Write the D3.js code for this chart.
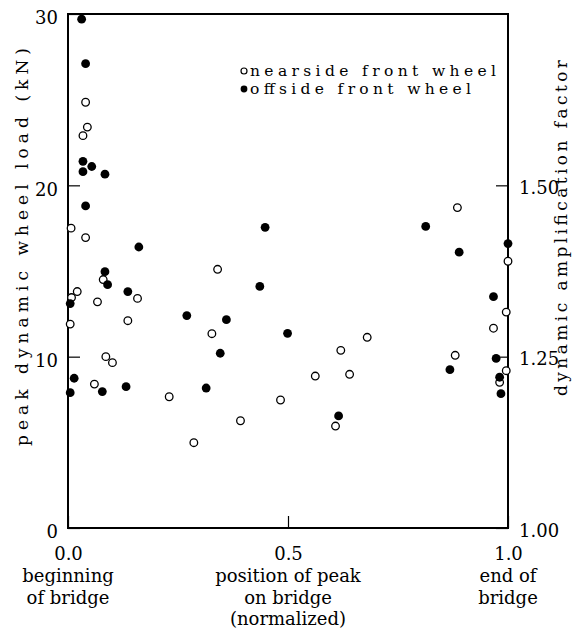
<!DOCTYPE html>
<html>
<head>
<meta charset="utf-8">
<script src="https://cdn.jsdelivr.net/npm/d3@7"></script>
<style>
  html, body { margin: 0; padding: 0; background: #fff; }
  svg { display: block; }
</style>
</head>
<body>
<svg id="chart" width="579" height="634"></svg>
<script>
// ---- data ----
const nearsidePos  = [0.040,0.044,0.034,0.007,0.040,0.080,0.021,0.008,0.158,0.067,0.005,0.136,0.086,0.101,0.060,0.230,0.286,0.340,0.327,0.680,0.620,0.562,0.640,0.483,0.392,0.608,0.885,1.000,0.996,0.967,0.880,0.996,0.981];
const nearsideLoad = [24.85,23.4,22.9,17.5,16.95,14.5,13.8,13.45,13.4,13.2,11.9,12.1,10.0,9.65,8.4,7.66,4.98,15.1,11.34,11.13,10.37,8.87,8.97,7.47,6.26,5.95,18.7,15.57,12.6,11.66,10.08,9.18,8.5];
const offsidePos   = [0.031,0.040,0.034,0.054,0.034,0.084,0.040,0.161,0.084,0.090,0.136,0.005,0.270,0.014,0.005,0.078,0.132,0.448,0.436,0.360,0.499,0.346,0.314,0.615,0.813,1.000,0.889,0.967,0.973,0.868,0.981,0.984];
const offsideLoad  = [29.7,27.1,21.4,21.1,20.8,20.65,18.8,16.4,14.96,14.2,13.8,13.1,12.4,8.74,7.9,7.96,8.25,17.55,14.1,12.16,11.36,10.2,8.17,6.54,17.6,16.6,16.1,13.5,9.9,9.24,8.8,7.84];

const loadTicks   = [0, 10, 20, 30];
const factorTicks = [1.00, 1.25, 1.50];
const posTicks    = [0, 0.5, 1.0];
const posTickLabels = ["0.0", "0.5", "1.0"];
const posSubLabels  = [["beginning", "of bridge"], ["position of peak", "on bridge", "(normalized)"], ["end of", "bridge"]];
const legendLabels  = ["nearside front wheel", "offside front wheel"];
const leftTitle  = "peak dynamic wheel load (kN)";
const rightTitle = "dynamic amplification factor";

// ---- layout ----
const FONT = "'DejaVu Serif', serif";
const L = 68, R = 508, T = 14, B = 528;
const svg = d3.select("#chart");

const x  = d3.scaleLinear().domain([0, 1]).range([L, R]);
const y  = d3.scaleLinear().domain([0, 30]).range([B, T]);
const y2 = d3.scaleLinear().domain([1.0, 1.75]).range([B, T]);

// frame
svg.append("rect").attr("x", L).attr("y", T).attr("width", R - L).attr("height", B - T)
  .attr("fill", "none").attr("stroke", "#000").attr("stroke-width", 2);

// left axis
const gl = svg.append("g").attr("transform", `translate(${L},0)`)
  .call(d3.axisLeft(y).tickValues(loadTicks).tickSize(-12).tickPadding(10).tickFormat(d3.format("d")));
// right axis
const gr = svg.append("g").attr("transform", `translate(${R},0)`)
  .call(d3.axisRight(y2).tickValues(factorTicks).tickSize(-12).tickPadding(11).tickFormat(d3.format(".2f")));
// bottom axis
const gb = svg.append("g").attr("transform", `translate(0,${B})`)
  .call(d3.axisBottom(x).tickValues(posTicks).tickSize(-12).tickPadding(19).tickFormat((d, i) => posTickLabels[i]));

[gl, gr, gb].forEach(g => {
  g.attr("font-family", FONT).attr("font-size", 18);
  g.select(".domain").remove();
  g.selectAll(".tick line").attr("stroke", "#000").attr("stroke-width", 1.2);
  g.selectAll(".tick text").attr("fill", "#000");
});
gl.selectAll(".tick text").attr("dy", "0.55em");
gr.selectAll(".tick text").attr("dy", "0.45em");

// bottom sub labels
posTicks.forEach((p, i) => {
  posSubLabels[i].forEach((s, j) => {
    svg.append("text").attr("x", x(p)).attr("y", 582 + j * 21.5)
      .attr("text-anchor", "middle")
      .attr("font-family", FONT).attr("font-size", 18).attr("fill", "#000").text(s);
  });
});

// axis titles
svg.append("text").attr("transform", `translate(28,${247}) rotate(-90)`)
  .attr("text-anchor", "middle").attr("font-family", FONT).attr("font-size", 17).attr("fill", "#000")
  .attr("textLength", 398).attr("lengthAdjust", "spacing").text(leftTitle);
svg.append("text").attr("transform", `translate(567,${228}) rotate(-90)`)
  .attr("text-anchor", "middle").attr("font-family", FONT).attr("font-size", 17).attr("fill", "#000")
  .attr("textLength", 336).attr("lengthAdjust", "spacing").text(rightTitle);

// points
const near = nearsidePos.map((p, i) => ({ p, v: nearsideLoad[i] }));
const off  = offsidePos.map((p, i) => ({ p, v: offsideLoad[i] }));

svg.append("g").selectAll("circle").data(near).join("circle")
  .attr("cx", d => x(d.p)).attr("cy", d => y(d.v)).attr("r", 3.8)
  .attr("fill", "#fff").attr("stroke", "#000").attr("stroke-width", 1.3);
svg.append("g").selectAll("circle").data(off).join("circle")
  .attr("cx", d => x(d.p)).attr("cy", d => y(d.v)).attr("r", 4.4)
  .attr("fill", "#000");

// legend
const lg = svg.append("g");
const legY = [70, 88];
lg.append("circle").attr("cx", 244).attr("cy", legY[0] + 1).attr("r", 3)
  .attr("fill", "#fff").attr("stroke", "#000").attr("stroke-width", 1.2);
lg.append("circle").attr("cx", 244).attr("cy", legY[1] + 1).attr("r", 3.4).attr("fill", "#000");
const legW = [246, 221];
legendLabels.forEach((s, i) => {
  lg.append("text").attr("x", 250).attr("y", legY[i] + 5.5)
    .attr("font-family", FONT).attr("font-size", 15.5).attr("fill", "#000")
    .attr("textLength", legW[i]).attr("lengthAdjust", "spacing").text(s);
});
</script>
</body>
</html>
